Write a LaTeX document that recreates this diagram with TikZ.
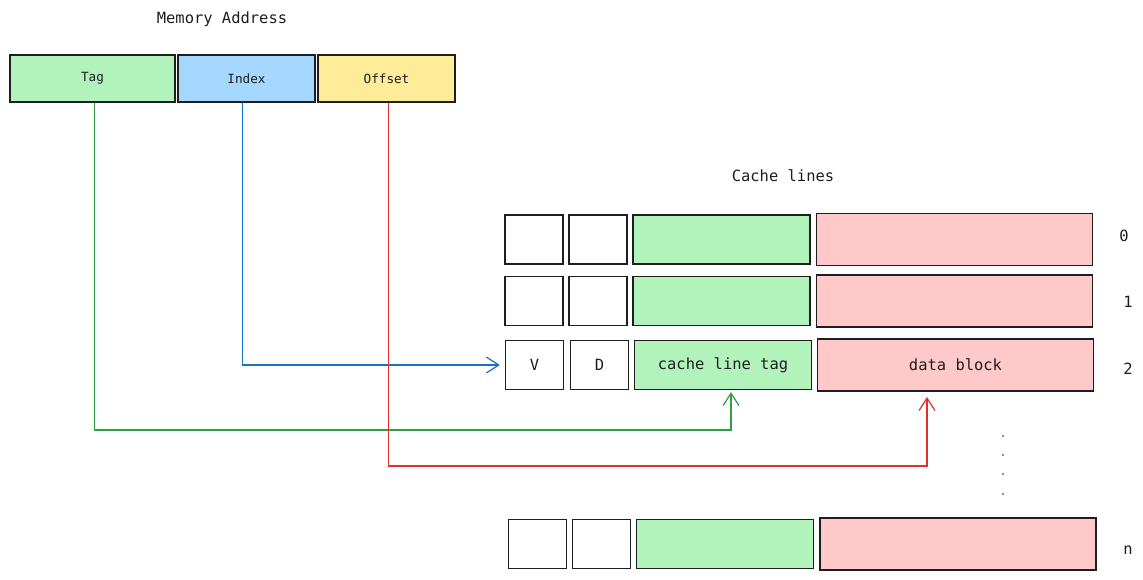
\documentclass[tikz,border=0pt]{standalone}
\usepackage{fontspec}
\setmonofont{DejaVu Sans Mono}
\usetikzlibrary{arrows.meta,calc}
\definecolor{ink}{HTML}{1E1E1E}
\definecolor{tagfill}{HTML}{B2F2BB}
\definecolor{idxfill}{HTML}{A5D8FF}
\definecolor{offfill}{HTML}{FFEC99}
\definecolor{blkfill}{HTML}{FFC9C9}
\definecolor{tagline}{HTML}{2F9E44}
\definecolor{idxline}{HTML}{1971C2}
\definecolor{offline}{HTML}{E03131}
\tikzset{
    field/.style={rectangle, draw=ink, line width=0.7pt, minimum height=0.94cm,
        inner sep=0pt, font=\ttfamily\fontsize{7.2}{8}\selectfont, text=ink},
    bitbox/.style={rectangle, draw=ink, line width=0.7pt, fill=white, minimum width=1.16cm,
        minimum height=0.98cm, inner sep=0pt, font=\ttfamily\fontsize{8.8}{10}\selectfont, text=ink},
    linetag/.style={bitbox, fill=tagfill, minimum width=3.54cm},
    datablk/.style={bitbox, fill=blkfill, minimum width=5.52cm, minimum height=1.04cm},
    caption/.style={font=\ttfamily\fontsize{8.8}{10}\selectfont, text=ink},
    wire/.style={line width=0.7pt, -{Straight Barb[length=7pt,width=9pt]}},
}
\begin{document}
\begin{tikzpicture}[x=0.02cm, y=-0.02cm]
    \useasboundingbox (0,0) rectangle (1143,579);

    % memory address
    \node[caption] (addr) at (222,19) {Memory Address};
    \node[field, fill=tagfill, minimum width=3.3cm] (tag) at (92.5,78.5) {Tag};
    \node[field, fill=idxfill, minimum width=2.74cm] (index) at (246.5,78.5) {Index};
    \node[field, fill=offfill, minimum width=2.74cm] (offset) at (386.5,78.5) {Offset};

    % cache lines
    \node[caption] (title) at (783,176) {Cache lines};
    \foreach \r/\y/\dx in {0/239.5/0, 1/301/0, n/544/3.5} {
        \node[bitbox] (v\r) at (534+\dx,\y) {};
        \node[bitbox] (d\r) at (598+\dx,\y) {};
        \node[linetag] (t\r) at (721.5+\dx,\y) {};
        \node[datablk] (b\r) at (954.5+\dx,\y) {};
    }
    \node[bitbox] (v2) at (534.5,365) {V};
    \node[bitbox] (d2) at (599.5,365) {D};
    \node[linetag] (t2) at (723,365) {cache line tag};
    \node[datablk] (b2) at (955.5,365) {data block};

    % line numbers
    \node[caption] (n0) at (1124,236) {0};
    \node[caption] (n1) at (1128,302) {1};
    \node[caption] (n2) at (1128,369) {2};
    \node[caption] (nn) at (1128,550) {n};
    \foreach \y in {436,455,474,494}
        \fill[ink] (1003,\y) circle (0.8);

    % connectors
    \coordinate (idxstart) at ($(index.south)+(-4,0)$);
    \coordinate (tagstart) at ($(tag.south)+(2,0)$);
    \coordinate (offstart) at ($(offset.south)+(2,0)$);
    \coordinate (tagend) at ($(t2.south)+(8,2)$);
    \coordinate (blkend) at (927,397);
    \draw[wire, idxline] (idxstart) -- (idxstart |- 0,365) -- ($(v2.west)+(-5,0)$);
    \draw[wire, tagline] (tagstart) -- (tagstart |- 0,430) -| (tagend);
    \draw[wire, offline] (offstart) -- (offstart |- 0,466) -| (blkend);
\end{tikzpicture}
\end{document}
